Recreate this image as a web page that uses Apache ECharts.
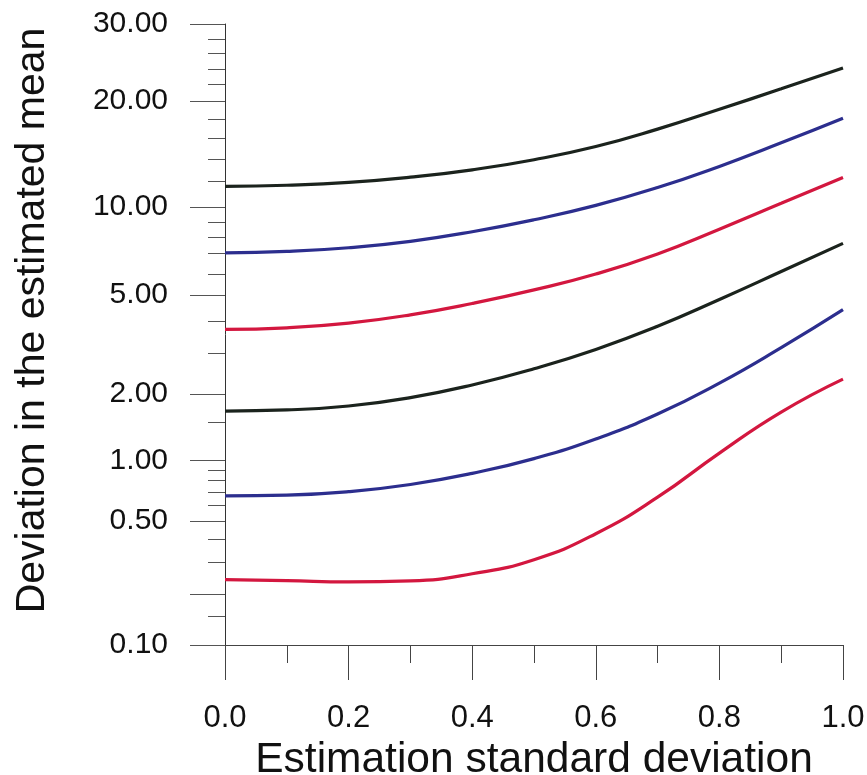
<!DOCTYPE html>
<html>
<head>
    <meta charset="utf-8">
    <title>Deviation in the estimated mean</title>
    <script src="https://cdn.jsdelivr.net/npm/echarts@6/dist/echarts.min.js"></script>
    <style>
        html, body { margin: 0; padding: 0; background: #ffffff; }
        #chart { width: 867px; height: 775px; }
    </style>
</head>
<body>
<div id="chart"></div>
<script>
    // x values (estimation standard deviation)
    var xs = [0, 0.1, 0.2, 0.3, 0.4, 0.5, 0.6, 0.7, 0.8, 0.9, 1.0];

    // curves, top to bottom
    var black1 = [11.6, 11.7, 11.94, 12.37, 13.0, 13.91, 15.16, 16.92, 19.06, 21.43, 24.12];
    var blue1  = [7.02, 7.10, 7.32, 7.72, 8.34, 9.15, 10.13, 11.51, 13.30, 15.53, 18.08];
    var red1   = [3.71, 3.76, 3.92, 4.21, 4.64, 5.22, 6.01, 6.96, 8.51, 10.28, 12.35];
    var black2 = [1.68, 1.70, 1.77, 1.93, 2.19, 2.57, 3.10, 3.81, 4.80, 6.12, 7.59];
    var blue2  = [0.670, 0.676, 0.704, 0.761, 0.864, 1.021, 1.254, 1.629, 2.23, 3.15, 4.40];
    var red2   = [0.240, 0.237, 0.233, 0.236, 0.258, 0.308, 0.426, 0.660, 1.082, 1.662, 2.32];

    // the y scale of the original is hand drawn (not a true log scale):
    // each tick value and where it sits on the axis, in % of axis height
    var scaleValues = [0.1, 0.15, 0.2, 0.3, 0.4, 0.5, 0.6, 0.7, 0.8, 0.9, 1, 1.5, 2, 3, 4, 5, 6, 7, 8, 9, 10, 12, 14, 16, 18, 20, 22, 24, 26, 28, 30];
    var scalePos    = [0, 4.7, 8.2, 13.4, 17.1, 20.0, 22.5, 24.6, 26.6, 28.2, 29.7, 35.9, 40.4, 47.0, 52.2, 56.4, 59.7, 63.1, 65.7, 68.1, 70.5, 74.6, 78.3, 81.6, 84.7, 87.6, 90.3, 92.75, 95.3, 97.6, 100];

    var majorTicks = [0.1, 0.2, 0.5, 1, 2, 5, 10, 20, 30];
    var labelTicks = [0.1, 0.5, 1, 2, 5, 10, 20, 30];

    // value -> axis position, log-linear between the tick stops
    function scaleY(v) {
        for (var i = 0; i < scaleValues.length - 1; i++) {
            var a = scaleValues[i], b = scaleValues[i + 1];
            if (v <= b || i == scaleValues.length - 2) {
                var t = (Math.log(v) - Math.log(a)) / (Math.log(b) - Math.log(a));
                return scalePos[i] + t * (scalePos[i + 1] - scalePos[i]);
            }
        }
    }

    function toSeries(vals, color) {
        return {
            type: 'line',
            data: xs.map(function (x, i) { return [x, scaleY(vals[i])]; }),
            showSymbol: false,
            smooth: true,
            lineStyle: { color: color, width: 3.2 },
            itemStyle: { color: color },
            animation: false
        };
    }

    var minorTicks = scaleValues.filter(function (v) { return majorTicks.indexOf(v) < 0; });

    var chart = echarts.init(document.getElementById('chart'));
    var font = "'Liberation Sans', Arial, sans-serif";

    chart.setOption({
        backgroundColor: '#ffffff',
        animation: false,
        grid: { left: 225, right: 24, top: 24, bottom: 130, outerBoundsMode: 'none', containLabel: false },
        xAxis: {
            type: 'value',
            min: 0,
            max: 1,
            interval: 0.2,
            name: 'Estimation standard deviation',
            nameLocation: 'middle',
            nameGap: 75,
            nameTextStyle: { fontFamily: font, fontSize: 42.5, color: '#111' },
            axisLine: { lineStyle: { color: '#444', width: 1 } },
            axisTick: { length: 35, lineStyle: { color: '#444' } },
            minorTick: { show: true, splitNumber: 2, length: 18, lineStyle: { color: '#444' } },
            axisLabel: {
                margin: 58,
                fontFamily: font,
                fontSize: 31,
                color: '#111',
                formatter: function (v) { return v.toFixed(1); }
            },
            splitLine: { show: false }
        },
        yAxis: [
            {
                type: 'value',
                min: 0,
                max: 100,
                name: 'Deviation in the estimated mean',
                nameLocation: 'middle',
                nameGap: 172,
                nameTextStyle: { fontFamily: font, fontSize: 41, color: '#111', padding: [0, 0, 0, 28] },
                axisLine: { show: true, lineStyle: { color: '#333', width: 1 } },
                axisTick: {
                    show: true,
                    length: 35,
                    customValues: majorTicks.map(scaleY),
                    lineStyle: { color: '#555' }
                },
                axisLabel: {
                    margin: 57,
                    fontFamily: font,
                    fontSize: 30,
                    color: '#111',
                    customValues: labelTicks.map(scaleY),
                    formatter: function (u) {
                        for (var i = 0; i < labelTicks.length; i++) {
                            if (Math.abs(scaleY(labelTicks[i]) - u) < 1e-6) {
                                return labelTicks[i].toFixed(2);
                            }
                        }
                        return '';
                    }
                },
                splitLine: { show: false }
            },
            {
                type: 'value',
                min: 0,
                max: 100,
                position: 'left',
                offset: 0,
                axisLine: { show: false },
                axisTick: {
                    show: true,
                    length: 17,
                    customValues: minorTicks.map(scaleY),
                    lineStyle: { color: '#555' }
                },
                axisLabel: { show: false },
                splitLine: { show: false }
            }
        ],
        series: [
            toSeries(black1, '#1b231d'),
            toSeries(blue1, '#2c2e8e'),
            toSeries(red1, '#d3173f'),
            toSeries(black2, '#1b231d'),
            toSeries(blue2, '#2c2e8e'),
            toSeries(red2, '#d3173f')
        ]
    });
</script>
</body>
</html>
